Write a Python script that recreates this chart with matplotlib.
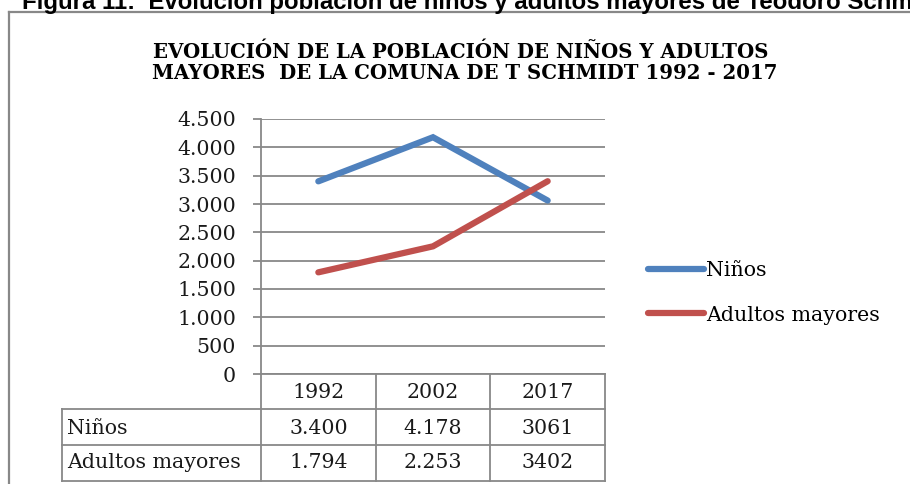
import matplotlib
matplotlib.use('Agg')
import matplotlib.pyplot as plt
import matplotlib.transforms as mtransforms
from matplotlib.lines import Line2D
from matplotlib.ticker import FuncFormatter, MultipleLocator

years = ['1992', '2002', '2017']
ninos = [3400, 4178, 3061]
adultos = [1794, 2253, 3402]
series_names = ['Niños', 'Adultos mayores']
# table cells exactly as printed in the source
ninos_labels = ['3.400', '4.178', '3061']
adultos_labels = ['1.794', '2.253', '3402']

caption = 'Figura 11:  Evolución población de niños y adultos mayores de Teodoro Schmidt'
title_lines = ['EVOLUCIÓN DE LA POBLACIÓN DE NIÑOS Y ADULTOS',
               'MAYORES  DE LA COMUNA DE T SCHMIDT 1992 - 2017']

W, H = 910, 484
BLUE = '#4F81BD'
RED = '#C0504D'
GRID = '#888888'
SERIF = 'DejaVu Serif'
FS = 14.8


def fx(px):
    return px / W


def fy(px):
    return 1 - px / H


fig = plt.figure(figsize=(W / 100, H / 100), dpi=100)

# caption (cut off at the top of the image, as in the source)
fig.text(fx(22), fy(9), caption, fontfamily='Liberation Sans', fontweight='bold',
         fontsize=17.3, va='baseline', ha='left', color='black')

# outer frame of the chart
fig.add_artist(Line2D([fx(9), fx(9)], [fy(12), 0], transform=fig.transFigure,
                      color=GRID, lw=1.6))
fig.add_artist(Line2D([fx(9), 1], [fy(12), fy(12)], transform=fig.transFigure,
                      color=GRID, lw=1.6))

# title
fig.text(fx(461), fy(58), title_lines[0], fontfamily=SERIF, fontweight='bold',
         fontsize=14.2, ha='center', va='baseline')
fig.text(fx(465), fy(79), title_lines[1], fontfamily=SERIF, fontweight='bold',
         fontsize=14.2, ha='center', va='baseline')

left, right, top, bottom = 261, 605, 119, 374
ax = fig.add_axes([fx(left), fy(bottom), fx(right - left), fy(top) - fy(bottom)])

x = list(range(len(years)))
ax.plot(x, ninos, color=BLUE, lw=4.5, solid_capstyle='round', solid_joinstyle='miter',
        label=series_names[0], zorder=3)
ax.plot(x, adultos, color=RED, lw=4.5, solid_capstyle='round', solid_joinstyle='miter',
        label=series_names[1], zorder=3)

ax.set_xlim(-0.5, len(years) - 0.5)
ax.set_ylim(0, 4500)
ax.yaxis.set_major_locator(MultipleLocator(500))
ax.yaxis.set_major_formatter(FuncFormatter(lambda v, p: f'{int(v):,}'.replace(',', '.')))
ax.set_xticks([])
ax.grid(axis='y', color=GRID, lw=1.3)
ax.set_axisbelow(True)
for s in ['top', 'right']:
    ax.spines[s].set_visible(False)
for s in ['left', 'bottom']:
    ax.spines[s].set_color(GRID)
    ax.spines[s].set_linewidth(1.3)
ax.tick_params(axis='y', length=6, width=1.3, color=GRID, pad=12, labelsize=FS,
               labelcolor='#1a1a1a')
for lab in ax.get_yticklabels():
    lab.set_fontfamily(SERIF)

leg = ax.legend(loc='center left', bbox_to_anchor=(fx(638), fy(293)),
                bbox_transform=fig.transFigure, frameon=False, borderpad=0,
                handlelength=2.7, handletextpad=0.12, labelspacing=1.22,
                prop={'family': SERIF, 'size': FS})

# data table under the axis
bt = mtransforms.blended_transform_factory(ax.transData, fig.transFigure)
row_y = [392, 428, 463]
row_lines = [409, 445, 481]
for b in [i - 0.5 for i in range(len(years) + 1)]:
    ax.add_artist(Line2D([b, b], [fy(bottom), fy(row_lines[-1])], transform=bt,
                         color=GRID, lw=1.3, clip_on=False))
for ly in row_lines:
    fig.add_artist(Line2D([fx(62), fx(right)], [fy(ly), fy(ly)],
                          transform=fig.transFigure, color=GRID, lw=1.3))
fig.add_artist(Line2D([fx(62), fx(62)], [fy(row_lines[0]), fy(row_lines[-1])],
                      transform=fig.transFigure, color=GRID, lw=1.3))

for i, yr in enumerate(years):
    ax.text(i, fy(row_y[0]), yr, transform=bt, ha='center', va='center',
            fontfamily=SERIF, fontsize=FS, color='#1a1a1a')
    ax.text(i, fy(row_y[1]), ninos_labels[i], transform=bt, ha='center', va='center',
            fontfamily=SERIF, fontsize=FS, color='#1a1a1a')
    ax.text(i, fy(row_y[2]), adultos_labels[i], transform=bt, ha='center', va='center',
            fontfamily=SERIF, fontsize=FS, color='#1a1a1a')
fig.text(fx(67), fy(row_y[1]), series_names[0], ha='left', va='center',
         fontfamily=SERIF, fontsize=FS, color='#1a1a1a')
fig.text(fx(67), fy(row_y[2]), series_names[1], ha='left', va='center',
         fontfamily=SERIF, fontsize=FS, color='#1a1a1a')

fig.savefig('out.png', dpi=100)
